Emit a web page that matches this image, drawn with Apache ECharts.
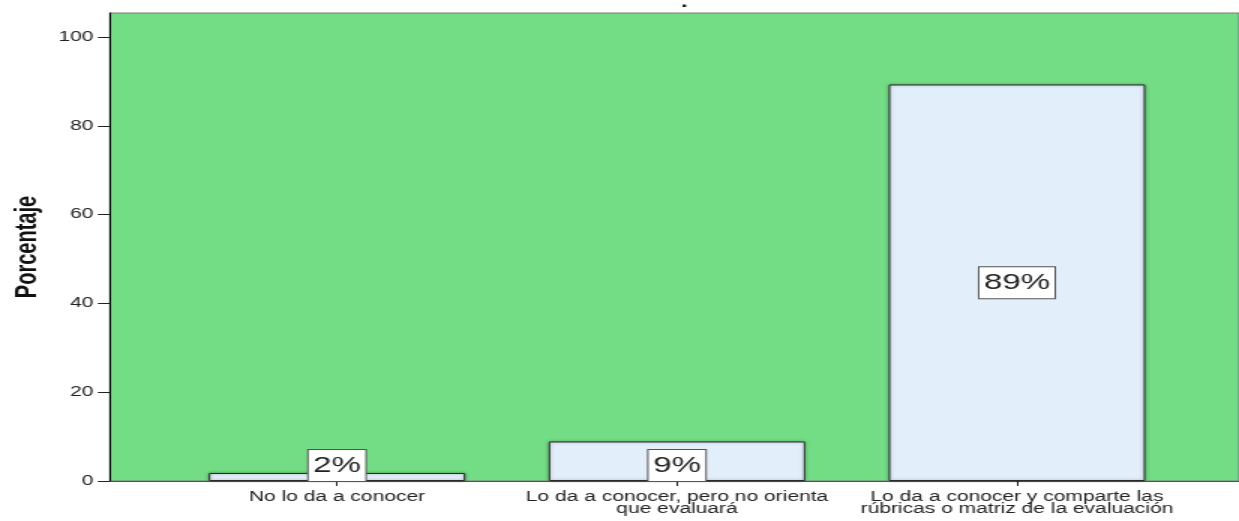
<!DOCTYPE html>
<html>
<head>
<meta charset="utf-8">
<script src="https://cdn.jsdelivr.net/npm/echarts@6/dist/echarts.min.js"></script>
<style>
  html, body { margin: 0; padding: 0; background: #ffffff; overflow: hidden; }
  #wrap { width: 1239px; height: 521px; overflow: hidden; }
  /* the chart is laid out narrow and widened horizontally */
  #chart { width: 826px; height: 521px; transform: scaleX(1.5); transform-origin: 0 0; }
</style>
</head>
<body>
<div id="wrap"><div id="chart"></div></div>
<script>
// Categories (x axis) and percentage of answers for each one
const categories = [
  'No lo da a conocer',
  'Lo da a conocer, pero no orienta\nque evaluará',
  'Lo da a conocer y comparte las\nrúbricas o matriz de la evaluación'
];
const percentages = [1.8, 8.9, 89.3];
const yTicks = [0, 20, 40, 60, 80, 100];
const yAxisTitle = 'Porcentaje';

const FONT = '"Liberation Sans", Arial, "DejaVu Sans", sans-serif';
const categoryPositions = categories.map((_, i) => i);

const chart = echarts.init(document.getElementById('chart'), null, { renderer: 'canvas' });

const barData = percentages.map((v, i) => ({
  value: [categoryPositions[i], v],
  label: v < 10 ? { position: 'insideBottom', distance: 0 } : { position: 'inside' }
}));

chart.setOption({
  animation: false,
  title: {
    text: '.',
    left: 449,
    top: -10,
    textStyle: { fontSize: 16, fontWeight: 'bold', color: '#111', fontFamily: FONT }
  },
  grid: {
    left: 72,
    right: -2,
    top: 13,
    bottom: 40,
    show: true,
    backgroundColor: '#72DD85',
    borderColor: '#7a7a7a',
    borderWidth: 1
  },
  xAxis: {
    type: 'value',
    min: -0.668,
    max: 2.653,
    axisLine: { show: true, onZero: false, lineStyle: { color: '#555', width: 1 } },
    axisTick: { show: true, customValues: categoryPositions, length: 5, lineStyle: { color: '#222' } },
    axisLabel: {
      customValues: categoryPositions,
      formatter: (val) => categories[Math.round(val)] || '',
      margin: 10,
      fontSize: 14,
      lineHeight: 12,
      color: '#222',
      fontFamily: FONT,
      align: 'center'
    },
    splitLine: { show: false }
  },
  yAxis: {
    type: 'value',
    min: 0,
    max: 105.4,
    name: yAxisTitle,
    nameLocation: 'middle',
    nameGap: 44,
    nameRotate: 90,
    nameTextStyle: { fontSize: 20, fontWeight: 'bold', color: '#111', fontFamily: FONT },
    axisLine: { show: true, onZero: false, lineStyle: { color: '#000', width: 1 } },
    axisTick: { show: true, customValues: yTicks, length: 8, lineStyle: { color: '#222' } },
    axisLabel: {
      customValues: yTicks,
      margin: 11,
      fontSize: 14,
      color: '#222',
      fontFamily: FONT
    },
    splitLine: { show: false }
  },
  series: [{
    type: 'bar',
    data: barData,
    barWidth: 171,
    itemStyle: {
      color: '#E2EEFA',
      borderColor: '#2a2a2a',
      borderWidth: 1,
      shadowBlur: 3,
      shadowColor: 'rgba(0,0,0,0.35)'
    },
    label: {
      show: true,
      formatter: (p) => Math.round(p.value[1]) + '%',
      fontSize: 22,
      lineHeight: 22,
      color: '#222',
      fontFamily: FONT,
      backgroundColor: '#ffffff',
      borderColor: '#555',
      borderWidth: 1,
      padding: [5, 3, 4, 3]
    }
  }]
});
</script>
</body>
</html>
